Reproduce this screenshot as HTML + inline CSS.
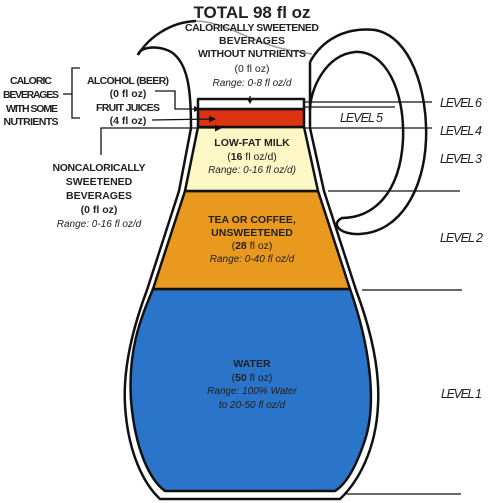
<!DOCTYPE html>
<html><head><meta charset="utf-8"><style>
html,body{margin:0;padding:0;background:#fff}
svg{display:block}
text{font-family:"Liberation Sans",sans-serif;fill:#222}
.b{font-weight:bold;font-size:10.5px}
.n{font-size:10.5px}
.i{font-style:italic;font-size:10px}
.lv{font-style:italic;font-size:12.5px;fill:#222}
</style></head><body>
<svg width="500" height="503" viewBox="0 0 500 503">
<g stroke="#111" stroke-width="2.5" stroke-linejoin="round">
<path fill="#2a74c9" d="M153,289 L350,289 C368,340 378,400 365,440 C355,470 345,485 335,491 L165,491 C150,480 135,450 131,400 C128,350 140,320 153,289 Z"/>
<path fill="#e99a1e" d="M185,191 L318,191 L350,289 L153,289 Z"/>
<path fill="#fdf7c6" d="M198,127 L304,127 L318,191 L185,191 Z"/>
<rect x="198" y="109" width="106" height="18" fill="#dd3311"/>
<rect x="198" y="99" width="106" height="10" fill="#fff"/>
</g>
<g fill="none" stroke="#111" stroke-width="2.5">
<path d="M138,55 C140,45 165,45 175,55 C189,68 191,95 191,128 L179,191 L147,290 C132,330 123,370 125,405 C128,455 145,485 160,499 L340,499 C358,482 376,450 378,405 C380,370 371,330 356,290 L324,191 L310,128 L310,62"/>
<path d="M138,55 C148,38 170,22 196,21"/>
<path d="M310,62 C322,40 345,27 375,30 C410,36 428,90 426,140 C424,190 400,232 360,234 C340,235 330,224 342,218 C372,218 400,195 403,140 C405,90 385,50 355,52 C325,55 310,90 310,110"/>
</g>
<path d="M196,21 C230,22 250,45 300,52 L312,54" fill="none" stroke="#999" stroke-width="1.5"/>
<g stroke="#111" stroke-width="1.3">
<line x1="305" y1="102" x2="432" y2="102"/>
<line x1="305" y1="107" x2="395" y2="107"/>
<line x1="305" y1="128" x2="432" y2="128"/>
<line x1="328" y1="191" x2="460" y2="191"/>
<line x1="362" y1="290" x2="462" y2="290"/>
<line x1="346" y1="494" x2="461" y2="494"/>
</g>
<g>
<text class="lv" x="440" y="107" textLength="42">LEVEL 6</text>
<text class="lv" x="340" y="122" textLength="43">LEVEL 5</text>
<text class="lv" x="440" y="135" textLength="42">LEVEL 4</text>
<text class="lv" x="440" y="163" textLength="42">LEVEL 3</text>
<text class="lv" x="440" y="242" textLength="43">LEVEL 2</text>
<text class="lv" x="441" y="398" textLength="41">LEVEL 1</text>
</g>
<g stroke="#111" stroke-width="1.3" fill="none">
<path d="M155,91 L175,91 L175,109 L196,109"/>
<path d="M152,120 L212,119"/>
<path d="M101,155 L101,128 L218,128"/>
<path d="M250,96 L250,102"/>
</g>
<g fill="#111">
<path d="M200,109 l-6,-3 l0,6z"/>
<path d="M216,119 l-7,-3.5 l0,7z"/>
<path d="M222,128 l-7,-3.5 l0,7z"/>
<path d="M250,104 l-3.5,-6 l7,0z"/>
</g>
<path d="M80,68 L72,68 L72,118 L80,118 M63,94 L72,94" stroke="#111" stroke-width="1.3" fill="none"/>
<g text-anchor="middle">
<text x="252" y="18" style="font-weight:bold;font-size:17px">TOTAL 98 fl oz</text>
<text class="b" x="252" y="31" textLength="134">CALORICALLY SWEETENED</text>
<text class="b" x="252" y="44">BEVERAGES</text>
<text class="b" x="252" y="57" textLength="108">WITHOUT NUTRIENTS</text>
<text class="n" x="252" y="72">(0 fl oz)</text>
<text class="i" x="252" y="86">Range: 0-8 fl oz/d</text>

<text class="b" x="31" y="84" textLength="42">CALORIC</text>
<text class="b" x="31" y="98" textLength="56">BEVERAGES</text>
<text class="b" x="32" y="112" textLength="52">WITH SOME</text>
<text class="b" x="31" y="125" textLength="55">NUTRIENTS</text>

<text class="b" x="128" y="84" textLength="82">ALCOHOL (BEER)</text>
<text class="b" x="128" y="97">(0 fl oz)</text>
<text class="b" x="128" y="111" textLength="64">FRUIT JUICES</text>
<text class="b" x="128" y="124">(4 fl oz)</text>

<text class="b" x="99" y="171" textLength="93">NONCALORICALLY</text>
<text class="b" x="99" y="185">SWEETENED</text>
<text class="b" x="99" y="199">BEVERAGES</text>
<text class="b" x="99" y="213">(0 fl oz)</text>
<text class="i" x="99" y="227">Range: 0-16 fl oz/d</text>

<text class="b" x="252" y="146">LOW-FAT MILK</text>
<text class="n" x="252" y="160">(<tspan font-weight="bold">16</tspan> fl oz/d)</text>
<text class="i" x="252" y="173">Range: 0-16 fl oz/d)</text>

<text class="b" x="252" y="223">TEA OR COFFEE,</text>
<text class="b" x="252" y="236">UNSWEETENED</text>
<text class="n" x="252" y="249">(<tspan font-weight="bold">28</tspan> fl oz)</text>
<text class="i" x="252" y="262">Range: 0-40 fl oz/d</text>

<text class="b" x="252" y="367">WATER</text>
<text class="n" x="252" y="381">(<tspan font-weight="bold">50</tspan> fl oz)</text>
<text class="i" x="252" y="394">Range: 100% Water</text>
<text class="i" x="252" y="408">to 20-50 fl oz/d</text>
</g>
</svg>
</body></html>
